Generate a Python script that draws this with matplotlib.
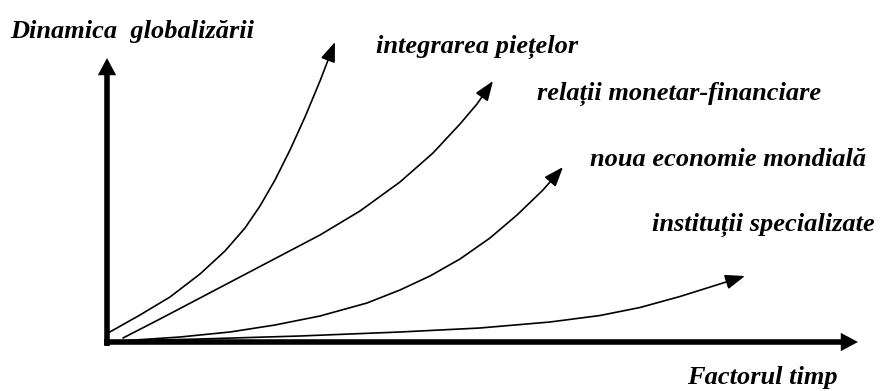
import matplotlib
matplotlib.use("Agg")
import matplotlib.pyplot as plt
from matplotlib.patches import FancyArrowPatch
from matplotlib.path import Path

# Units: pixels measured from the corner where the two axes meet (x right, y up)
axis_x_end = 751
axis_y_end = 284

# Curves
integrare_x = [1, 33, 63, 93, 118, 138, 153, 168, 183, 198, 213, 228]
integrare_y = [9, 27, 45, 68, 91, 114, 136, 162, 192, 225, 261, 300]

relatii_x = [16, 53, 93, 133, 173, 213, 253, 293, 326, 353, 370, 386]
relatii_y = [4, 23, 44, 65, 86, 107, 131, 160, 189, 218, 238, 261]

economie_x = [13, 73, 123, 168, 213, 260, 293, 323, 353, 383, 410, 436, 456]
economie_y = [1, 5, 10, 17, 26, 39, 52, 66, 83, 104, 127, 152, 175]

institutii_x = [8, 93, 193, 293, 373, 443, 493, 533, 573, 608, 638]
institutii_y = [1, 3, 6, 10, 14, 20, 26.5, 34.5, 45.5, 56.5, 66]

curves = [
    (integrare_x, integrare_y),
    (relatii_x, relatii_y),
    (economie_x, economie_y),
    (institutii_x, institutii_y),
]

labels = ["integrarea pie\u021belor", "rela\u021bii monetar-financiare",
          "noua economie mondial\u0103", "institu\u021bii specializate"]
label_pos = [(269, 289), (430, 242), (483, 176), (545, 111)]

y_title = "Dinamica  globaliz\u0103rii"
x_title = "Factorul timp"

fig = plt.figure(figsize=(8.8, 3.91), dpi=100)
ax = fig.add_axes([0, 0, 1, 1])
ax.set_xlim(-107, 773)
ax.set_ylim(-49, 342)
ax.axis("off")

font = dict(family="Liberation Serif", weight="bold", style="italic",
            size=19, color="black")

# axes as thick arrows
for start, end in [((-3, 0), (axis_x_end, 0)), ((0, -4), (0, axis_y_end))]:
    ax.add_patch(FancyArrowPatch(start, end,
                                 arrowstyle="simple,head_length=0.62,head_width=0.66,tail_width=0.2",
                                 mutation_scale=20, shrinkA=0, shrinkB=0,
                                 color="black", lw=0))

# growth curves with arrow heads
for xs, ys in curves:
    ax.add_patch(FancyArrowPatch(path=Path(list(zip(xs, ys))),
                                 arrowstyle="-|>,head_length=1.2,head_width=0.45",
                                 mutation_scale=10, color="black", lw=1.2,
                                 joinstyle="round", capstyle="round"))

for text, (tx, ty) in zip(labels, label_pos):
    ax.text(tx, ty, text, ha="left", va="baseline", **font)

ax.text(-97, 304, y_title, ha="left", va="baseline", **font)
ax.text(580, -42, x_title, ha="left", va="baseline", **font)

fig.savefig("out.png", dpi=100)
